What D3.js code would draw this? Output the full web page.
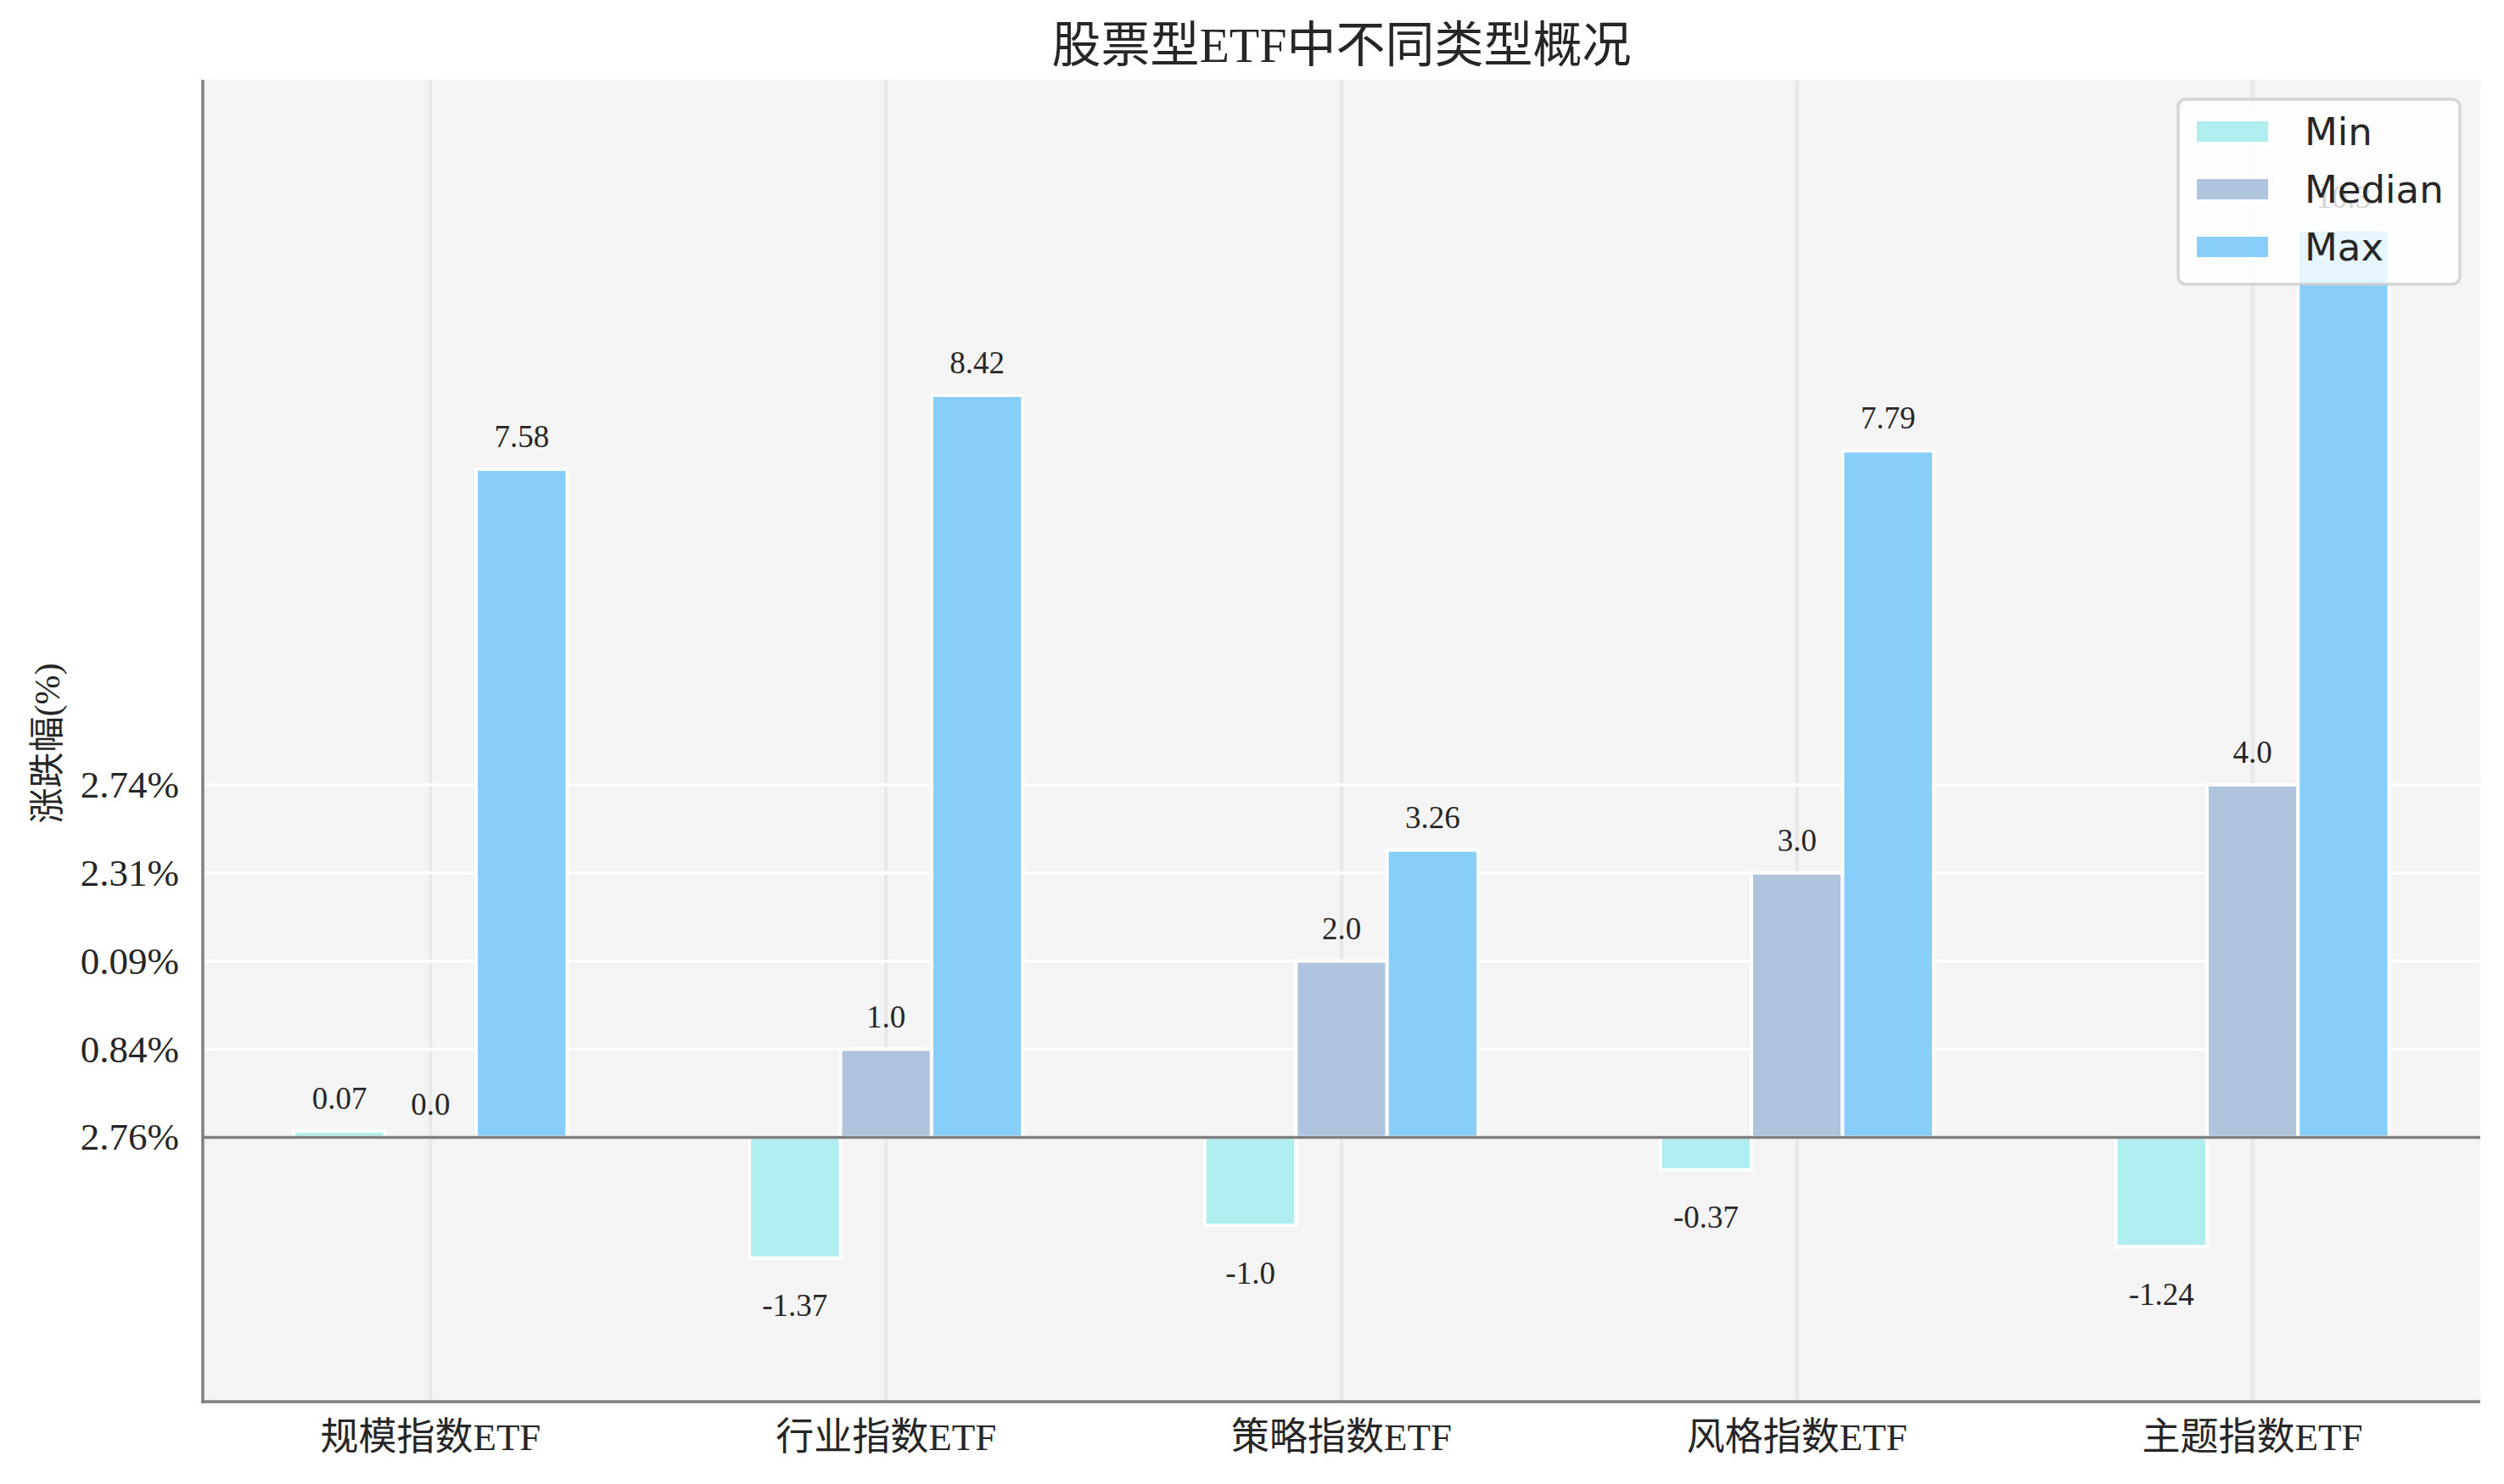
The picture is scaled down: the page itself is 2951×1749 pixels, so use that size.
<!DOCTYPE html>
<html>
<head>
<meta charset="utf-8">
<script src="https://cdn.jsdelivr.net/npm/d3@7"></script>
<style>
  html, body { margin: 0; padding: 0; background: #ffffff; }
  svg { display: block; }
</style>
</head>
<body>
<script>
// ---------- data ----------
const categories = ["规模指数ETF", "行业指数ETF", "策略指数ETF", "风格指数ETF", "主题指数ETF"];
const seriesNames = ["Min", "Median", "Max"];
const minVals = [0.07, -1.37, -1.0, -0.37, -1.24];
const medianVals = [0.0, 1.0, 2.0, 3.0, 4.0];
const maxVals = [7.58, 8.42, 3.26, 7.79, 10.3];
const yTickValues = [0, 1, 2, 3, 4];
const yTickLabels = ["2.76%", "0.84%", "0.09%", "2.31%", "2.74%"];
const seriesColors = ["#AFEEEE", "#B0C4DE", "#87CEFA"];
const titleText = "股票型ETF中不同类型概况";
const yLabelText = "涨跌幅(%)";

// ---------- layout ----------
const W = 2951, H = 1749;
const margin = { left: 239, right: W - 2923, top: 94, bottom: H - 1652 };
const serif = "'Liberation Serif', 'Noto Sans CJK SC', serif";
const cjkSerif = "'Liberation Serif', 'Noto Sans CJK SC', serif";
const textColor = "#262626";

const svg = d3.select("body").append("svg").attr("width", W).attr("height", H);

const x = d3.scaleBand().domain(categories).range([margin.left, W - margin.right]).padding(0);
const bw = x.bandwidth();
const xs = d3.scaleBand().domain(seriesNames).range([-0.3 * bw, 0.3 * bw]).padding(0);
const y = d3.scaleLinear().domain([-3, 12]).range([H - margin.bottom, margin.top]);

const seriesData = [minVals, medianVals, maxVals];

// background
svg.append("rect")
  .attr("x", margin.left).attr("y", margin.top)
  .attr("width", W - margin.left - margin.right)
  .attr("height", H - margin.top - margin.bottom)
  .attr("fill", "#f4f4f4");

// vertical grid (category centers)
svg.append("g").selectAll("line").data(categories).join("line")
  .attr("x1", d => x(d) + bw / 2).attr("x2", d => x(d) + bw / 2)
  .attr("y1", margin.top).attr("y2", H - margin.bottom)
  .attr("stroke", "#e8e8e8").attr("stroke-width", 4);

// horizontal grid (tick positions)
svg.append("g").selectAll("line").data(yTickValues).join("line")
  .attr("x1", margin.left).attr("x2", W - margin.right)
  .attr("y1", d => y(d)).attr("y2", d => y(d))
  .attr("stroke", "#ffffff").attr("stroke-width", 3.5);

// bars
const barsG = svg.append("g");
seriesNames.forEach((s, si) => {
  barsG.append("g").selectAll("rect").data(seriesData[si]).join("rect")
    .attr("x", (d, i) => x(categories[i]) + bw / 2 + xs(s))
    .attr("width", xs.bandwidth())
    .attr("y", d => y(Math.max(0, d)))
    .attr("height", d => Math.abs(y(d) - y(0)))
    .attr("fill", seriesColors[si])
    .attr("stroke", "#ffffff").attr("stroke-width", 4);
});

// zero line
svg.append("line")
  .attr("x1", margin.left).attr("x2", W - margin.right)
  .attr("y1", y(0)).attr("y2", y(0))
  .attr("stroke", "#808080").attr("stroke-width", 3.5);

// spines
svg.append("line")
  .attr("x1", margin.left).attr("x2", margin.left)
  .attr("y1", margin.top).attr("y2", H - margin.bottom + 1.75)
  .attr("stroke", "#808080").attr("stroke-width", 3.5);
svg.append("line")
  .attr("x1", margin.left - 1.75).attr("x2", W - margin.right)
  .attr("y1", H - margin.bottom).attr("y2", H - margin.bottom)
  .attr("stroke", "#808080").attr("stroke-width", 3.5);

// value labels
const fmt = v => Number.isInteger(v) ? v.toFixed(1) : String(v);
const labelsG = svg.append("g");
seriesNames.forEach((s, si) => {
  labelsG.append("g").selectAll("text").data(seriesData[si]).join("text")
    .attr("x", (d, i) => x(categories[i]) + bw / 2 + xs(s) + xs.bandwidth() / 2)
    .attr("y", d => d >= 0 ? y(d + 0.37) : y(d - 0.54))
    .attr("text-anchor", "middle")
    .attr("dominant-baseline", "central")
    .attr("font-family", serif)
    .attr("font-size", 37)
    .attr("fill", textColor)
    .text(d => fmt(d));
});

// y tick labels
svg.append("g").selectAll("text").data(yTickValues).join("text")
  .attr("x", margin.left - 28)
  .attr("y", d => y(d))
  .attr("text-anchor", "end")
  .attr("dominant-baseline", "central")
  .attr("font-family", serif)
  .attr("font-size", 45)
  .attr("fill", textColor)
  .text((d, i) => yTickLabels[i]);

// x tick labels
svg.append("g").selectAll("text").data(categories).join("text")
  .attr("x", d => x(d) + bw / 2)
  .attr("y", 1694)
  .attr("text-anchor", "middle")
  .attr("dominant-baseline", "central")
  .attr("font-family", cjkSerif)
  .attr("font-size", 45)
  .attr("fill", textColor)
  .text(d => d);

// y axis label
svg.append("text")
  .attr("transform", `translate(56, ${876}) rotate(-90)`)
  .attr("text-anchor", "middle")
  .attr("dominant-baseline", "central")
  .attr("font-family", cjkSerif)
  .attr("font-size", 42)
  .attr("fill", textColor)
  .text(yLabelText);

// title
svg.append("text")
  .attr("x", (margin.left + W - margin.right) / 2)
  .attr("y", 53)
  .attr("text-anchor", "middle")
  .attr("dominant-baseline", "central")
  .attr("font-family", cjkSerif)
  .attr("font-size", 58)
  .attr("fill", textColor)
  .text(titleText);

// legend (drawn on top, semi-transparent, as in the reference)
const lg = svg.append("g");
lg.append("rect")
  .attr("x", 2567).attr("y", 117).attr("width", 332).attr("height", 218)
  .attr("rx", 9).attr("ry", 9)
  .attr("fill", "#ffffff").attr("fill-opacity", 0.8)
  .attr("stroke", "#cccccc").attr("stroke-opacity", 0.8).attr("stroke-width", 3.5);
const rowY = [155, 223, 291];
seriesNames.forEach((s, i) => {
  lg.append("rect")
    .attr("x", 2587).attr("y", rowY[i] - 14).attr("width", 88).attr("height", 28)
    .attr("fill", seriesColors[i]).attr("stroke", "#ffffff").attr("stroke-width", 4);
  lg.append("text")
    .attr("x", 2716).attr("y", rowY[i])
    .attr("dominant-baseline", "central")
    .attr("font-family", "'DejaVu Sans', sans-serif")
    .attr("font-size", 45)
    .attr("fill", textColor)
    .text(s);
});
</script>
</body>
</html>
